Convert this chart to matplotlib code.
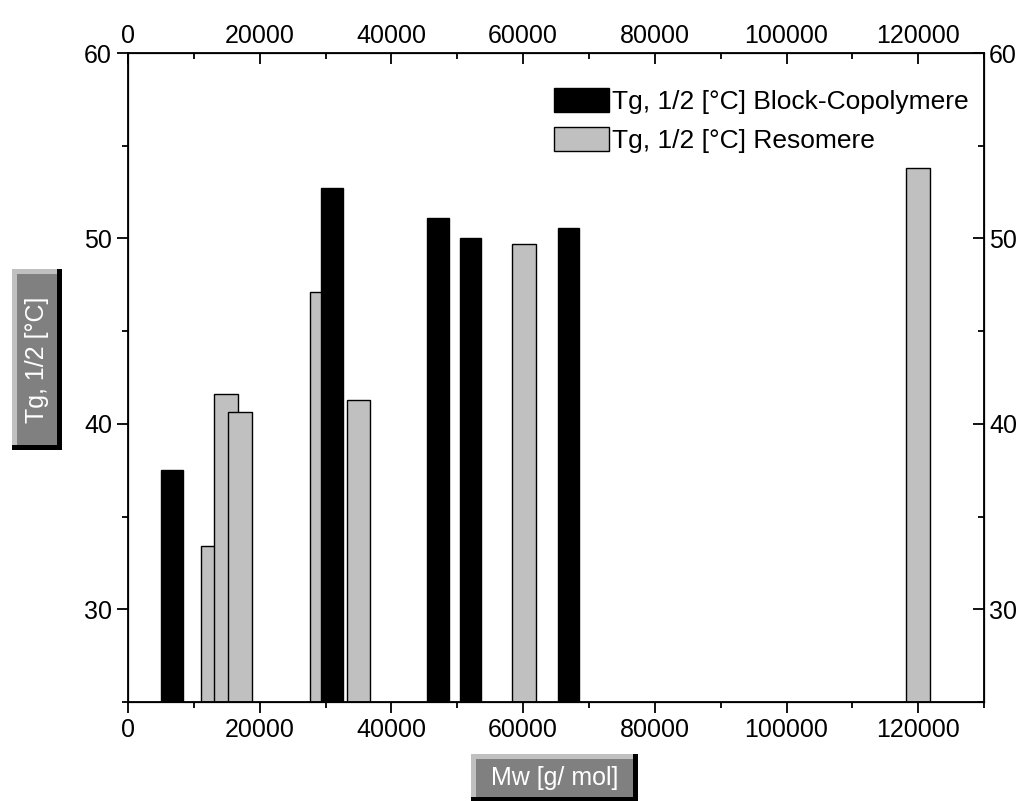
import matplotlib
matplotlib.use("Agg")
import matplotlib.pyplot as plt
from matplotlib.ticker import MultipleLocator
from matplotlib.patches import Rectangle

plt.rcParams['font.family'] = ['Liberation Sans', 'DejaVu Sans']

# Block-Copolymere
mw_block = [6700, 31000, 47100, 52000, 66900]
tg_block = [37.5, 52.7, 51.1, 50.05, 50.55]
# Resomere
mw_reso = [12900, 14900, 17000, 29500, 35000, 60100, 120000]
tg_reso = [33.4, 41.6, 40.65, 47.1, 41.3, 49.7, 53.8]

xticks = [0, 20000, 40000, 60000, 80000, 100000, 120000]
yticks = [30, 40, 50, 60]

FS = 18

fig = plt.figure(figsize=(10.33, 8.01), dpi=100)
ax = fig.add_axes([0.124, 0.1236, 0.8286, 0.8102])

base = 25
ax.bar(mw_reso, [v - base for v in tg_reso], bottom=base, width=3600,
       color='#c0c0c0', edgecolor='black', linewidth=1.0, zorder=2,
       label='Tg, 1/2 [°C] Resomere')
ax.bar(mw_block, [v - base for v in tg_block], bottom=base, width=3300,
       color='black', edgecolor='black', linewidth=1.0, zorder=3,
       label='Tg, 1/2 [°C] Block-Copolymere')

ax.set_xlim(0, 130000)
ax.set_ylim(25, 60)
ax.set_xticks(xticks)
ax.set_yticks(yticks)
ax.xaxis.set_minor_locator(MultipleLocator(10000))
ax.yaxis.set_minor_locator(MultipleLocator(5))
ax.tick_params(which='major', direction='out', length=8, width=1.3, labelsize=FS)
ax.tick_params(which='minor', direction='out', length=4, width=1.3)
for s in ax.spines.values():
    s.set_linewidth(1.3)

# top axis
axt = ax.twiny()
axt.set_xlim(ax.get_xlim())
axt.set_xticks(xticks)
axt.xaxis.set_minor_locator(MultipleLocator(10000))
axt.tick_params(which='major', direction='in', length=8, width=1.3, labelsize=FS)
axt.tick_params(which='minor', direction='in', length=4, width=1.3)

# right axis
axr = ax.twinx()
axr.set_ylim(ax.get_ylim())
axr.set_yticks(yticks)
axr.yaxis.set_minor_locator(MultipleLocator(5))
axr.tick_params(which='major', direction='in', length=8, width=1.3, labelsize=FS)
axr.tick_params(which='minor', direction='in', length=4, width=1.3)

h, l = ax.get_legend_handles_labels()
ax.legend(h[::-1], l[::-1], loc='upper right', frameon=False, fontsize=19,
          handlelength=2.1, handleheight=1.0, handletextpad=0.1,
          labelspacing=0.5, bbox_to_anchor=(1.0, 0.97), borderaxespad=0.2)

# axis titles in bevelled boxes
tx = fig.text(0.537, 0.029, 'Mw [g/ mol]', ha='center', va='center',
              fontsize=FS, color='white', zorder=5)
ty = fig.text(0.036, 0.551, 'Tg, 1/2 [°C]', rotation=90, ha='center',
              va='center', fontsize=FS, color='white', zorder=5)

fig.canvas.draw()
r = fig.canvas.get_renderer()
inv = fig.transFigure.inverted()


def rect(x0, y0, x1, y1, color):
    a = inv.transform((x0, y0))
    b = inv.transform((x1, y1))
    fig.patches.append(Rectangle(a, b[0] - a[0], b[1] - a[1],
                                 transform=fig.transFigure, facecolor=color,
                                 edgecolor='none'))


for t, px, py in ((tx, 20, 12), (ty, 13, 27)):
    bb = t.get_window_extent(r)
    x0, x1 = bb.x0 - px, bb.x1 + px
    y0, y1 = bb.y0 - py, bb.y1 + py
    e = 5
    rect(x0, y0, x1, y1, 'black')
    rect(x0, y0 + e, x1 - e, y1, '#c0c0c0')
    rect(x0 + e, y0 + e, x1 - e, y1 - e, '#808080')

fig.savefig('out.png', dpi=100)
